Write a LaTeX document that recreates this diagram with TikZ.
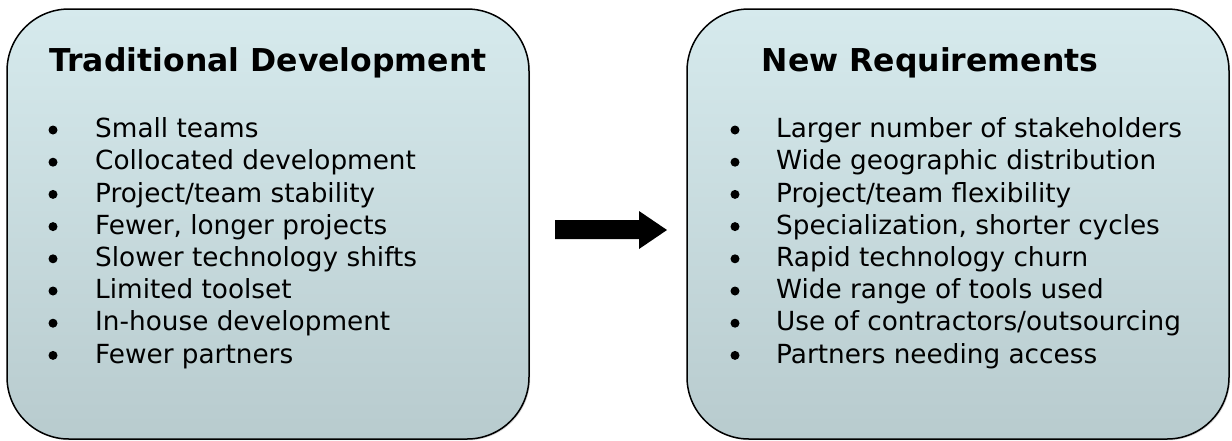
\documentclass[tikz,border=0pt]{standalone}
\usepackage{fontspec}
\setmainfont{DejaVu Sans}
\usetikzlibrary{shadows}

\definecolor{boxtop}{RGB}{214,234,237}
\definecolor{boxbottom}{RGB}{184,203,206}

\tikzset{
  panel/.style={draw=black, line width=1.5pt, rounded corners=62pt,
    top color=boxtop, bottom color=boxbottom,
    drop shadow={opacity=0.35, shadow xshift=1.2pt, shadow yshift=-1.2pt}},
  heading/.style={anchor=base, inner sep=0pt,
    font=\fontsize{31.5}{36}\selectfont\bfseries},
  entry/.style={anchor=base west, inner sep=0pt,
    font=\fontsize{26.3}{30}\selectfont},
  bulletdot/.style={circle, fill=black, inner sep=0pt, minimum size=9pt}
}

\begin{document}
\begin{tikzpicture}[x=1pt,y=-1pt]

    \useasboundingbox (0,0) rectangle (1232,440);

    % Rounded panels
    \path[panel] (7,9) rectangle (529,439);
    \path[panel] (687,9) rectangle (1229,439);

    % Headings
    \node[heading] (old-title) at (268,71) {Traditional Development};
    \node[heading] (new-title) at (930,71) {New Requirements};

    % Left list
    \foreach \txt [count=\i from 0] in {Small teams, Collocated development,
      Project/team stability, {Fewer, longer projects},
      Slower technology shifts, Limited toolset,
      In-house development, Fewer partners}
    {
      \node[bulletdot] (old-dot-\i) at (53,137.7+32.2*\i-7.7) {};
      \node[entry] (old-\i) at (95,137.7+32.2*\i) {\txt};
    }

    % Right list
    \foreach \txt [count=\i from 0] in {Larger number of stakeholders,
      Wide geographic distribution, Project/team flexibility,
      {Specialization, shorter cycles}, Rapid technology churn,
      Wide range of tools used, Use of contractors/outsourcing,
      Partners needing access}
    {
      \node[bulletdot] (new-dot-\i) at (735,137.7+32.2*\i-7.7) {};
      \node[entry] (new-\i) at (776,137.7+32.2*\i) {\txt};
    }

    % Block arrow
    \fill (555,220) -- (639,220) -- (639,211) -- (667,230)
      -- (639,249) -- (639,239) -- (555,239) -- cycle;

  \end{tikzpicture}
\end{document}
